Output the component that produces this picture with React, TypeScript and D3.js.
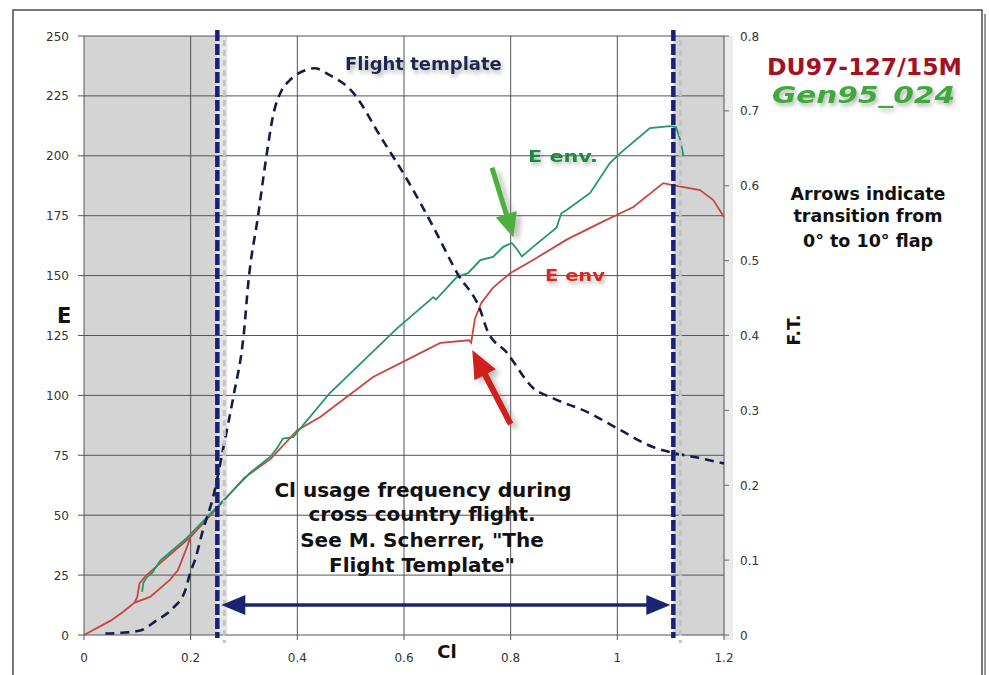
import React from 'react';
import * as d3 from 'd3';

const clTicks = [0, 0.2, 0.4, 0.6, 0.8, 1, 1.2];
const clTickLabels = ['0', '0.2', '0.4', '0.6', '0.8', '1', '1.2'];
const eTicks = [0, 25, 50, 75, 100, 125, 150, 175, 200, 225, 250];
const ftTicks = [0, 0.1, 0.2, 0.3, 0.4, 0.5, 0.6, 0.7, 0.8];
const ftTickLabels = ['0', '0.1', '0.2', '0.3', '0.4', '0.5', '0.6', '0.7', '0.8'];

// Flight template (right axis)
const ftCl = [0.04, 0.07, 0.105, 0.137, 0.167, 0.19, 0.2, 0.208, 0.223, 0.242, 0.264, 0.28, 0.3, 0.308, 0.326, 0.343, 0.354, 0.371, 0.386, 0.418, 0.432, 0.46, 0.5, 0.56, 0.606, 0.655, 0.7, 0.743, 0.756, 0.793, 0.842, 0.88, 0.943, 1.0, 1.067, 1.1, 1.15, 1.2];
const ftVal = [0.002, 0.003, 0.006, 0.02, 0.036, 0.06, 0.085, 0.1, 0.14, 0.184, 0.26, 0.318, 0.405, 0.47, 0.558, 0.644, 0.692, 0.728, 0.741, 0.755, 0.757, 0.748, 0.728, 0.661, 0.608, 0.545, 0.483, 0.434, 0.407, 0.377, 0.33, 0.316, 0.298, 0.276, 0.251, 0.244, 0.237, 0.229];

// Gen95_024 E envelope (green)
const genCl = [0.109, 0.111, 0.118, 0.128, 0.143, 0.193, 0.249, 0.311, 0.349, 0.362, 0.373, 0.392, 0.461, 0.587, 0.655, 0.66, 0.699, 0.72, 0.743, 0.767, 0.786, 0.802, 0.812, 0.821, 0.842, 0.886, 0.895, 0.905, 0.949, 0.986, 1.005, 1.061, 1.099, 1.11, 1.118, 1.124];
const genE = [18, 21.7, 24.2, 26, 31, 40.5, 53.4, 67.6, 74.3, 78, 82, 82.6, 101, 128, 141, 140, 149.4, 151, 156.5, 157.8, 162, 163.6, 161, 158, 162, 170, 176, 177.4, 184.5, 197, 201, 211.6, 212.4, 212, 206.6, 200];

// DU97-127/15M E envelope (red)
const duCl = [0, 0.05, 0.073, 0.095, 0.124, 0.161, 0.176, 0.193, 0.2, 0.25, 0.3, 0.35, 0.4, 0.443, 0.542, 0.598, 0.668, 0.722, 0.726, 0.733, 0.745, 0.767, 0.799, 0.842, 0.905, 0.968, 1.03, 1.086, 1.104, 1.155, 1.18, 1.2];
const duE = [0, 6, 9.6, 13.5, 15.9, 23, 27, 36.7, 41, 53, 65.5, 73.5, 85.5, 91, 107.7, 114, 121.9, 123, 122, 132, 138.6, 145, 151, 156.5, 165, 172, 178.6, 188.6, 187.8, 185.7, 181.5, 174.5];
const duBranchCl = [0.095, 0.1, 0.104, 0.115, 0.13, 0.2];
const duBranchE = [13.5, 16, 21.5, 24.5, 27.5, 41];

const usageBounds = [0.25, 1.105];

const W = 989;
const H = 675;

export default function App() {
  const x = d3.scaleLinear().domain([0, 1.2]).range([84, 724]);
  const yE = d3.scaleLinear().domain([0, 250]).range([635, 36]);
  const yF = d3.scaleLinear().domain([0, 0.8]).range([635, 36]);

  const lineE = d3.line<[number, number]>().x(d => x(d[0])).y(d => yE(d[1]));
  const lineF = d3.line<[number, number]>().x(d => x(d[0])).y(d => yF(d[1])).curve(d3.curveMonotoneX);

  const ftPts = ftCl.map((c, i) => [c, ftVal[i]] as [number, number]);
  const genPts = genCl.map((c, i) => [c, genE[i]] as [number, number]);
  const duPts = duCl.map((c, i) => [c, duE[i]] as [number, number]);
  const duBrPts = duBranchCl.map((c, i) => [c, duBranchE[i]] as [number, number]);

  const arrowPoly = (x1: number, y1: number, x2: number, y2: number, shaft: number, headL: number, headW: number) => {
    const dx = x2 - x1, dy = y2 - y1;
    const L = Math.hypot(dx, dy);
    const ux = dx / L, uy = dy / L;
    const px = -uy, py = ux;
    const bx = x2 - ux * headL, by = y2 - uy * headL;
    const pts = [
      [x1 + px * shaft / 2, y1 + py * shaft / 2],
      [bx + px * shaft / 2, by + py * shaft / 2],
      [bx + px * headW / 2, by + py * headW / 2],
      [x2, y2],
      [bx - px * headW / 2, by - py * headW / 2],
      [bx - px * shaft / 2, by - py * shaft / 2],
      [x1 - px * shaft / 2, y1 - py * shaft / 2],
    ];
    return pts.map(p => p.join(',')).join(' ');
  };

  const xl = x(usageBounds[0]);
  const xr = x(usageBounds[1]);
  const yArrow = yE(12.5);

  const boldFont = "'DejaVu Sans', Verdana, sans-serif";

  return (
    <svg width={W} height={H} style={{ position: 'absolute', left: 0, top: 0, background: '#fff' }}>
      <defs>
        <filter id="sh" x="-20%" y="-40%" width="150%" height="200%">
          <feDropShadow dx="2" dy="3" stdDeviation="2" floodColor="#777" floodOpacity="0.55" />
        </filter>
        <filter id="blur" x="-20%" y="-50%" width="140%" height="200%">
          <feGaussianBlur stdDeviation="2.5" />
        </filter>
      </defs>
      <rect x={0} y={0} width={W} height={H} fill="#fff" />
      {/* outer frame */}
      <rect x={13} y={10} width={969} height={680} fill="none" stroke="#4a4a4a" strokeWidth={1.5} />
      <line x1={985} y1={14} x2={985} y2={675} stroke="#999" strokeWidth={2} />

      {/* shaded regions */}
      <rect x={x(0)} y={yE(250)} width={xl - x(0)} height={yE(0) - yE(250)} fill="#d4d4d4" />
      <rect x={xl} y={yE(250)} width={10} height={yE(0) - yE(250)} fill="#e6e6e6" />
      <rect x={xr} y={yE(250)} width={x(1.2) - xr} height={yE(0) - yE(250)} fill="#d4d4d4" />
      <rect x={x(1.2)} y={yE(250)} width={9} height={yE(0) - yE(250) + 5} fill="#ebebeb" />

      {/* gridlines */}
      {eTicks.map(t => (
        <line key={'gh' + t} x1={x(0) - 6} x2={x(1.2)} y1={yE(t)} y2={yE(t)} stroke="#555" strokeWidth={1} />
      ))}
      {clTicks.map(t => (
        <line key={'gv' + t} x1={x(t)} x2={x(t)} y1={yE(250)} y2={yE(0) + 5} stroke="#555" strokeWidth={1} />
      ))}
      {ftTicks.map(t => (
        <line key={'rt' + t} x1={x(1.2)} x2={x(1.2) + 5} y1={yF(t)} y2={yF(t)} stroke="#666" strokeWidth={1} />
      ))}

      {/* tick labels */}
      {eTicks.map(t => (
        <text key={'el' + t} x={69} y={yE(t) + 4.5} textAnchor="end" fontFamily="'DejaVu Sans', Verdana, sans-serif" fontSize={12} fill="#333">{t}</text>
      ))}
      {ftTicks.map((t, i) => (
        <text key={'fl' + t} x={740} y={yF(t) + 4.5} textAnchor="start" fontFamily="'DejaVu Sans', Verdana, sans-serif" fontSize={12} fill="#333">{ftTickLabels[i]}</text>
      ))}
      {clTicks.map((t, i) => (
        <text key={'cl' + t} x={x(t)} y={662} textAnchor="middle" fontFamily="'DejaVu Sans', Verdana, sans-serif" fontSize={12} fill="#333">{clTickLabels[i]}</text>
      ))}

      {/* axis titles */}
      <text x={57} y={323} fontFamily={boldFont} fontWeight="bold" fontSize={21} fill="#111">E</text>
      <text x={447} y={658} textAnchor="middle" fontFamily={boldFont} fontWeight="bold" fontSize={18} fill="#111">Cl</text>
      <text transform="translate(800,330) rotate(-90)" textAnchor="middle" fontFamily={boldFont} fontWeight="bold" fontSize={17} fill="#111">F.T.</text>

      {/* data lines */}
      <path d={lineE(duBrPts) || ''} fill="none" stroke="#c8463f" strokeWidth={1.8} />
      <path d={lineE(duPts) || ''} fill="none" stroke="#c8463f" strokeWidth={1.8} />
      <path d={lineE(genPts) || ''} fill="none" stroke="#23966a" strokeWidth={1.8} />
      <path d={lineF(ftPts) || ''} fill="none" stroke="#161c4a" strokeWidth={2.6} strokeDasharray="9 6" />

      {/* usage bounds */}
      {usageBounds.map(b => (
        <g key={'ub' + b}>
          <line x1={x(b) + 7} x2={x(b) + 7} y1={yE(250) + 4} y2={yE(0) + 8} stroke="#c4c4c4" strokeWidth={3} strokeDasharray="6 4" />
          <line x1={x(b)} x2={x(b)} y1={30} y2={yE(0) + 3} stroke="#1b2170" strokeWidth={4.5} strokeDasharray="11 3" />
        </g>
      ))}

      {/* double arrow */}
      <line x1={xl + 20} x2={xr - 20} y1={yArrow + 6} y2={yArrow + 6} stroke="#999" strokeWidth={5} filter="url(#blur)" opacity={0.7} />
      <line x1={xl + 20} x2={xr - 20} y1={yArrow} y2={yArrow} stroke="#1b2470" strokeWidth={3.5} />
      <polygon points={`${xl + 4},${yArrow} ${xl + 28},${yArrow - 10} ${xl + 28},${yArrow + 10}`} fill="#1b2470" />
      <polygon points={`${xr - 3},${yArrow} ${xr - 27},${yArrow - 10} ${xr - 27},${yArrow + 10}`} fill="#1b2470" />

      {/* transition arrows */}
      <polygon points={arrowPoly(x(0.8) + 5, yE(88) + 4, x(0.728) + 5, yE(119) + 4, 6, 28, 24)} fill="#888" opacity={0.5} filter="url(#blur)" />
      <polygon points={arrowPoly(x(0.8), yE(88), x(0.728), yE(119), 6, 28, 24)} fill="#d0201e" />
      <polygon points={arrowPoly(x(0.765) + 5, yE(195) + 4, x(0.805) + 5, yE(166) + 4, 5, 24, 22)} fill="#888" opacity={0.5} filter="url(#blur)" />
      <polygon points={arrowPoly(x(0.765), yE(195), x(0.805), yE(166), 5, 24, 22)} fill="#4caf3e" />

      {/* annotations */}
      <text x={345} y={70} fontFamily={boldFont} fontWeight="bold" fontSize={18} fill="#1e2750" filter="url(#sh)">Flight template</text>
      <text x={528} y={162} fontFamily={boldFont} fontWeight="bold" fontSize={15} fill="#1f8a45" textLength={70} lengthAdjust="spacingAndGlyphs" filter="url(#sh)">E env.</text>
      <text x={545} y={281} fontFamily={boldFont} fontWeight="bold" fontSize={15} fill="#d42a22" textLength={60} lengthAdjust="spacingAndGlyphs" filter="url(#sh)">E env</text>

      <g fontFamily={boldFont} fontWeight="bold" fontSize={20} fill="#111" textAnchor="middle">
        <text x={423} y={497}>Cl usage frequency during</text>
        <text x={422} y={521}>cross country flight.</text>
        <text x={422} y={547}>See M. Scherrer, "The</text>
        <text x={422} y={572}>Flight Template"</text>
      </g>

      <text x={767} y={75} fontFamily={boldFont} fontWeight="bold" fontSize={23} fill="#a3121f" textLength={195} lengthAdjust="spacingAndGlyphs">DU97-127/15M</text>
      <text x={772} y={103} fontFamily={boldFont} fontWeight="bold" fontStyle="italic" fontSize={23} fill="#3daa3a" textLength={183} lengthAdjust="spacingAndGlyphs" filter="url(#sh)">Gen95_024</text>

      <g fontFamily={boldFont} fontWeight="bold" fontSize={17.5} fill="#111" textAnchor="middle">
        <text x={868} y={200}>Arrows indicate</text>
        <text x={868} y={222}>transition from</text>
        <text x={868} y={247}>0° to 10° flap</text>
      </g>
    </svg>
  );
}
